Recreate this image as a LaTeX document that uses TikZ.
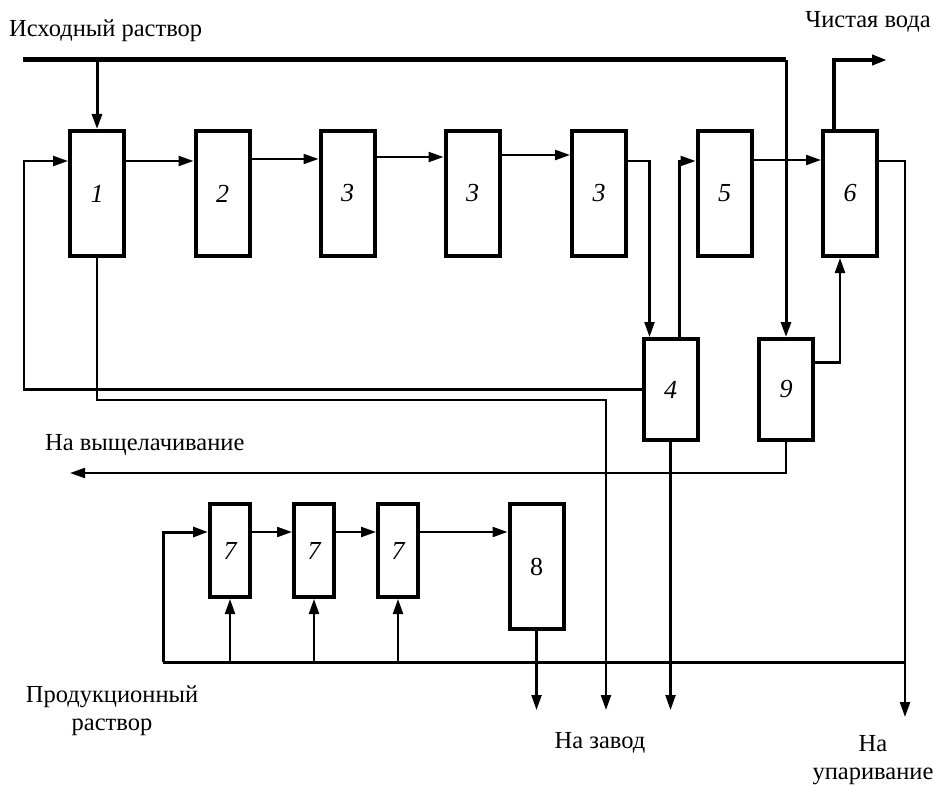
\documentclass[tikz,border=0pt]{standalone}
\usepackage{fontspec}
\setmainfont{Liberation Serif}
\usetikzlibrary{arrows.meta}

\begin{document}
\begin{tikzpicture}[x=1pt,y=-1pt,
    unit/.style={draw,line width=4pt,minimum width=54pt,minimum height=125pt,inner sep=0pt,
      font=\fontsize{26}{26}\selectfont\itshape},
    small/.style={unit,minimum width=40pt,minimum height=93pt},
    mid/.style={unit,minimum height=101pt},
    thin/.style={line width=2.2pt},
    feed/.style={line width=5pt},
    flow/.style={-{Triangle[length=15pt,width=10pt]}},
    lbl/.style={font=\fontsize{24.5}{28}\selectfont,inner sep=0pt}]

  \useasboundingbox (0,0) rectangle (933,786);

  \def\ya{160}

  % units
  \node[unit] (b1) at (97,193.5) {1};
  \node[unit] (b2) at (222.5,193.5) {2};
  \node[unit] (b3a) at (347.5,193.5) {3};
  \node[unit] (b3b) at (472.5,193.5) {3};
  \node[unit] (b3c) at (599,193.5) {3};
  \node[unit] (b5) at (724.5,193.5) {5};
  \node[unit] (b6) at (850,193.5) {6};
  \node[mid] (b4) at (670.5,389.5) {4};
  \node[mid] (b9) at (786,389.5) {9};
  \node[small] (b7a) at (230,550.5) {7};
  \node[small] (b7b) at (314,550.5) {7};
  \node[small] (b7c) at (398,550.5) {7};
  \node[unit,font=\fontsize{26}{26}\selectfont] (b8) at (536.5,566.5) {8};

  \coordinate (src) at (23,60);
  \coordinate (water) at (887,60);
  \coordinate (ret) at (24,389.5);
  \coordinate (leach) at (70,473);
  \coordinate (plant) at (606,710);
  \coordinate (evap) at (905,717);
  \coordinate (pl) at (163,662);

  % feed line
  \draw[feed] (src) -- (b9.north |- src);
  \draw[line width=3pt,flow] (b9.north |- src) -- (b9.north);
  \draw[line width=3pt,flow] (b1.north |- src) -- (b1.north);
  \draw[line width=4pt,flow] ([xshift=-16pt]b6.north) |- (water);

  % main chain
  \draw[thin,flow] (b1.east |- 0,161) -- (b2.west |- 0,161);
  \draw[thin,flow] (b2.east |- 0,159) -- (b3a.west |- 0,159);
  \draw[thin,flow] (b3a.east |- 0,157) -- (b3b.west |- 0,157);
  \draw[thin,flow] (b3b.east |- 0,155) -- (b3c.west |- 0,155);
  \draw[thin,flow] (b3c.east |- 0,161) -| ([xshift=8pt]b4.north west);
  \draw[thin,flow] ([xshift=-20pt]b4.north east) |- (b5.west |- 0,161);
  \draw[thin,flow] (b5.east |- 0,\ya) -- (b6.west |- 0,\ya);
  \draw[thin,flow] ([yshift=27pt]b9.east) -| ([xshift=-10pt]b6.south);
  \draw[thin,flow] (b6.east |- 0,161) -| (evap);

  % returns and outlets
  \draw[thin,flow] (b4.west) -- (ret) |- (b1.west |- 0,161);
  \draw[thin,flow] (b1.south) |- (plant |- 0,400) -- (plant);
  \draw[thin,flow] (b4.south) -- (b4.south |- plant);
  \draw[thin,flow] (b9.south) |- (leach);

  % production circuit
  \draw[line width=3pt] (evap |- pl) -- (pl);
  \draw[line width=3pt,flow] (pl) |- (b7a.west |- 0,532);
  \draw[thin,flow] (b7a.east |- 0,532) -- (b7b.west |- 0,532);
  \draw[thin,flow] (b7b.east |- 0,532) -- (b7c.west |- 0,532);
  \draw[thin,flow] (b7c.east |- 0,532) -- (b8.west |- 0,532);
  \foreach \b in {b7a,b7b,b7c}
    \draw[thin,flow] (\b.south |- pl) -- (\b.south);
  \draw[thin,flow] (b8.south) -- (b8.south |- plant);

  % labels
  \node[lbl,anchor=west] (tsrc) at (9,31) {Исходный раствор};
  \node[lbl,anchor=east] (twater) at (931,22) {Чистая вода};
  \node[lbl,anchor=west] (tleach) at (45,445) {На выщелачивание};
  \node[lbl,align=center] (tprod) at (112,711) {Продукционный\\раствор};
  \node[lbl] (tplant) at (600,743) {На завод};
  \node[lbl,align=center] (tevap) at (873,760) {На\\упаривание};

\end{tikzpicture}
\end{document}
